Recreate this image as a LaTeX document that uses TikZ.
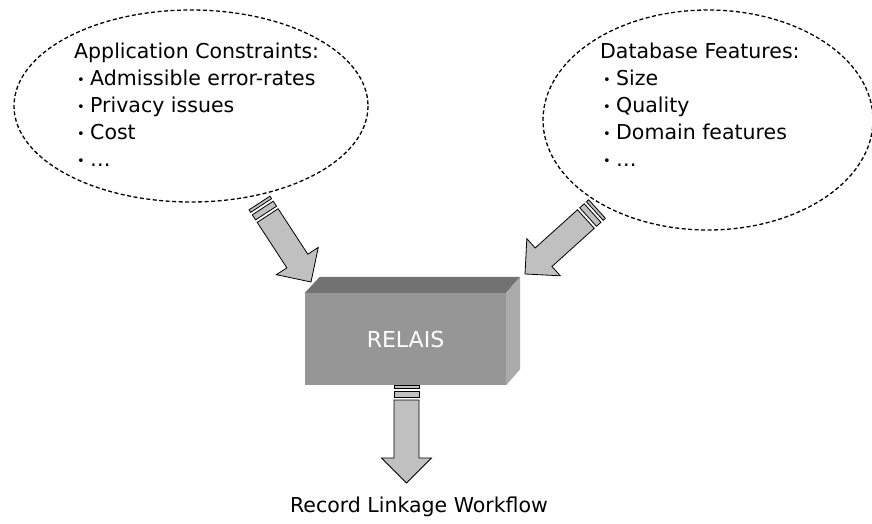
\documentclass[tikz,border=0pt]{standalone}
\usepackage{fontspec}
\setmainfont{DejaVu Sans}
\usetikzlibrary{calc}
\definecolor{arrowgray}{HTML}{C0C0C0}
\definecolor{frontgray}{HTML}{969696}
\definecolor{topgray}{HTML}{727272}
\definecolor{sidegray}{HTML}{ABABAB}
\newcommand\bul{\makebox[16pt][l]{\hspace{3pt}\raisebox{1pt}{\fontsize{13}{13}\selectfont •}}}
\tikzset{
  bubble/.style={draw=black, line width=1.3pt, dash pattern=on 4pt off 2.5pt},
  listtext/.style={anchor=north west, inner sep=0pt, align=left,
     font=\fontsize{20.5}{27}\selectfont},
  blockarrow/.style={draw=black, fill=arrowgray, line width=0.8pt, line join=miter},
  frontface/.style={fill=frontgray, draw=none, minimum width=201pt, minimum height=92pt,
     inner sep=0pt, text=white, font=\fontsize{22}{26}\selectfont},
  topface/.style={fill=topgray, draw=none},
  sideface/.style={fill=sidegray, draw=none},
  caption/.style={inner sep=0pt, font=\fontsize{20.5}{24}\selectfont}
}
\newcommand\stripedarrow[2]{%
  \path let \p1=(#1), \p2=(#2) in \pgfextra{%
    \pgfmathparse{atan2(\y2-\y1,\x2-\x1)}\xdef\arrang{\pgfmathresult}%
    \pgfmathparse{veclen(\x2-\x1,\y2-\y1)}\xdef\arrlen{\pgfmathresult}};
  \begin{scope}[shift={(#1)}, rotate=\arrang, x=1pt, y=1pt]
    \draw[blockarrow] (0,-12.5) rectangle (3,12.5);
    \draw[blockarrow] (6,-12.5) rectangle (12,12.5);
    \draw[blockarrow] (15,-12.5) -- (\arrlen-25,-12.5) -- (\arrlen-25,-25)
      -- (\arrlen,0) -- (\arrlen-25,25) -- (\arrlen-25,12.5) -- (15,12.5) -- cycle;
  \end{scope}}
\begin{document}
\begin{tikzpicture}[x=1pt, y=-1pt]
  \useasboundingbox (0,0) rectangle (872,524);
  % bubbles
  \draw[bubble] (191,106) ellipse [x radius=177, y radius=96];
  \draw[bubble] (708,120) ellipse [x radius=165, y radius=110];
  \node[listtext] (apptext) at (74,42.5) {Application Constraints:\\
    \bul Admissible error-rates\\
    \bul Privacy issues\\
    \bul Cost\\
    \bul …};
  \node[listtext] (dbtext) at (600,42.5) {Database Features:\\
    \bul Size\\
    \bul Quality\\
    \bul Domain features\\
    \bul …};
  % box
  \node[frontface] (relais) at (405.5,339) {RELAIS};
  \fill[topface] (relais.north west) -- ++(15,-16) -- ($(relais.north east)+(14,-16)$) -- (relais.north east) -- cycle;
  \fill[sideface] (relais.north east) -- ++(14,-16) -- ($(relais.south east)+(14,-16)$) -- (relais.south east) -- cycle;
  % arrows
  \coordinate (lt) at (259.5,203);
  \coordinate (lh) at (311,282);
  \coordinate (rt) at (597,209);
  \coordinate (rh) at (525,274);
  \coordinate (dt) at (406.5,385);
  \coordinate (dh) at (406.5,483);
  \stripedarrow{lt}{lh}
  \stripedarrow{rt}{rh}
  \stripedarrow{dt}{dh}
  \node[caption] (workflow) at (419,507) {Record Linkage Workflow};
\end{tikzpicture}
\end{document}
